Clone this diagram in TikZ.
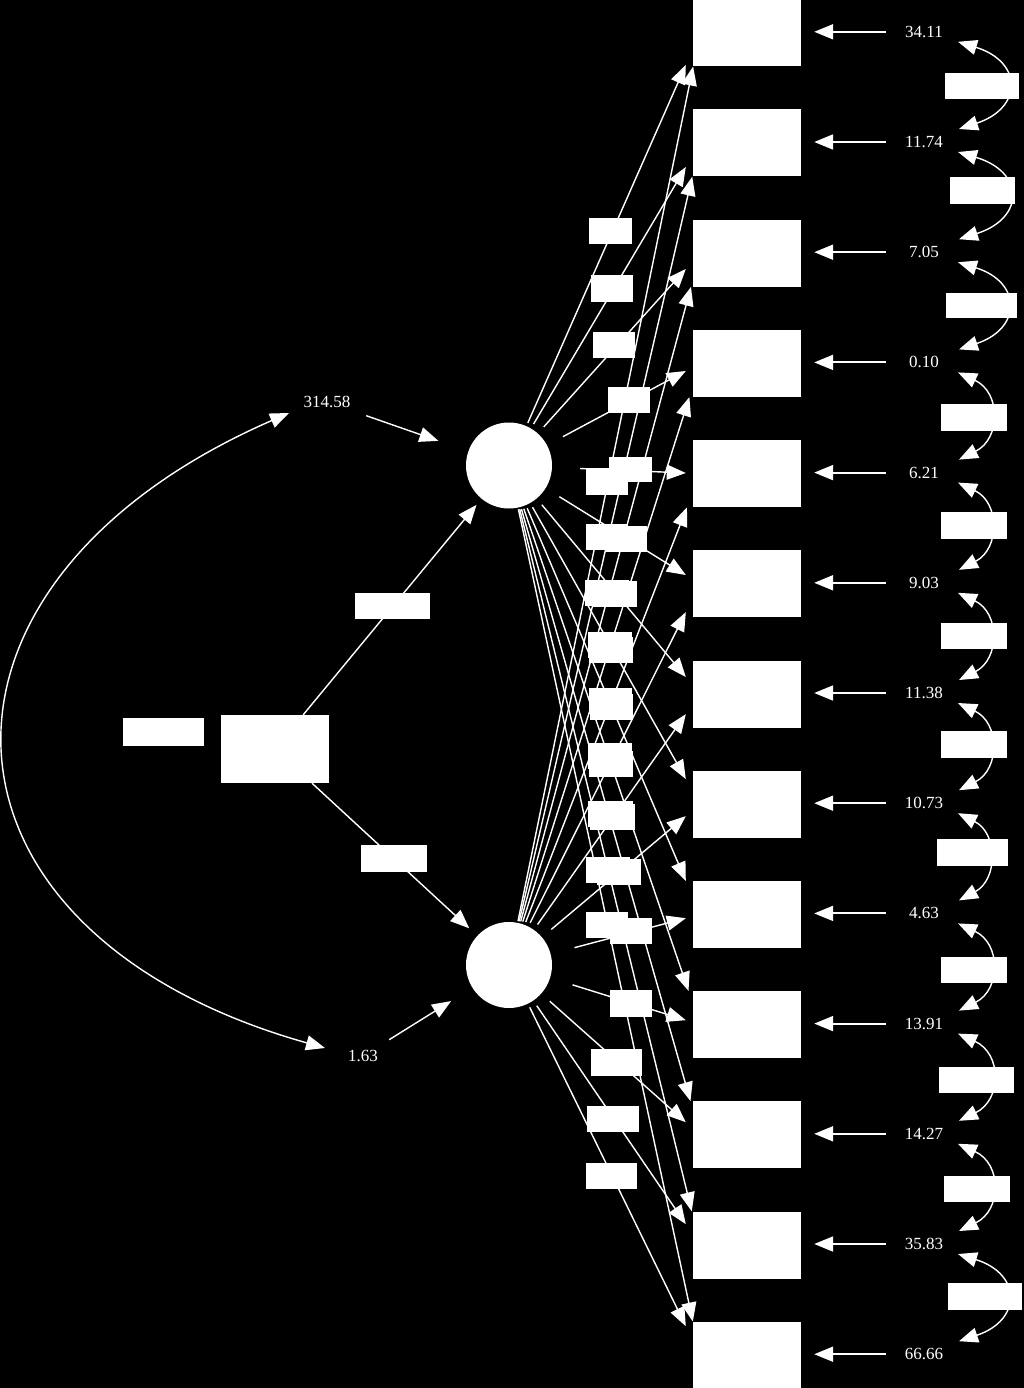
\documentclass[tikz,border=0pt]{standalone}
\usepackage{fontspec}
\setmainfont{Liberation Serif}
\usetikzlibrary{arrows.meta,shapes.geometric,calc}
\begin{document}
\begin{tikzpicture}[x=1pt,y=-1pt,
  >={Triangle[length=19pt,width=15pt]},
  conn/.style={white,line width=1.4pt,->},
  econn/.style={white,line width=2pt,->},
  dconn/.style={white,line width=1.4pt,<->},
  obs/.style={rectangle,fill=white,minimum width=108pt,minimum height=67pt,inner sep=0pt},
  lbl/.style={rectangle,fill=white,inner sep=0pt},
  port/.style={rectangle,minimum width=28pt,minimum height=67pt,inner sep=0pt},
  halo/.style={ellipse,minimum width=142pt,minimum height=88pt,inner sep=0pt},
  latent/.style={circle,fill=white,minimum size=86pt,inner sep=0pt},
  num/.style={text=white,font=\fontsize{17}{20}\selectfont,inner sep=0pt,minimum height=40pt}]
\useasboundingbox (0,0) rectangle (1024,1388);
\fill[black] (0,0) rectangle (1024,1388);

% latent variables and their connection outlines
\node[halo] (H1) at (509,465.5) {};
\node[halo] (H2) at (509,965) {};

% observed boxes, ports and error labels
\foreach \v [count=\i] in {34.11,11.74,7.05,0.10,6.21,9.03,11.38,10.73,4.63,13.91,14.27,35.83,66.66}{
  \pgfmathsetmacro\yy{32.8+110.2*(\i-1)}
  \node[port] (p\i) at (700,\yy) {};
  \node[num,minimum width=76pt] (e\i) at (924,\yy-1) {\v};
}

% paths from latents to observed
\foreach \i in {1,...,13}{
  \draw[conn] (H1) -- (p\i);
  \draw[conn] (H2) -- (p\i);
}

% observed boxes (drawn over tips overlap)
\foreach \i in {1,...,13}{
  \pgfmathsetmacro\yy{32.8+110.2*(\i-1)}
  \node[obs] (o\i) at (747,\yy) {};
  \draw[econn,shorten >=13pt] (e\i.west) -- (e\i.west -| o\i.east);
}

% path label boxes
\foreach \n/\x/\y/\w/\h in {
  a1/610/231/43/26, a2/612/288.5/42/27, a3/614/345/42/26, a4/629/400/42/26,
  a5/630/469.5/43/25, a6/626/539/42/26, a7/615/594/44/26, a8/611/650/44/26,
  a9/611/707/43/26, a10/611/764/44/26, a11/612/817/45/26, a12/619/872/44/26,
  a13/607/925/42/26,
  b1/607/481/42/27, b2/607/537/42/26, b3/607/593/44/26, b4/610/645/44/26,
  b5/610/701/43/26, b6/610/756/44/26, b7/610/814/45/26, b8/608/870/44/26,
  b9/631/931/42/26, b10/631/1003.5/42/27, b11/616.5/1062.5/51/27,
  b12/613/1119/52/26, b13/611.5/1176/51/26}{
  \node[lbl,minimum width=\w pt,minimum height=\h pt] (\n) at (\x,\y) {};
}

% latent circles
\node[latent] (L1) at (509,465.5) {};
\node[latent] (L2) at (509,965) {};

% exogenous box and its paths
\node[obs,minimum height=68pt] (B) at (275,749) {};
\node[lbl,minimum width=81pt,minimum height=28pt] (Bn) at (163.5,732) {};
\draw[conn] (B) -- (H1);
\draw[conn] (B) -- (H2);
\node[lbl,minimum width=75pt,minimum height=26pt] (g1) at (392.5,606) {};
\node[lbl,minimum width=66pt,minimum height=27pt] (g2) at (394,858.5) {};

% residual variances of latents
\node[num,minimum width=78pt] (v1) at (327,402) {314.58};
\node[num,minimum width=52pt] (v2) at (363,1056) {1.63};
\draw[conn,shorten >=9pt] (v1) -- (H1);
\draw[conn,shorten >=9pt] (v2) -- (H2);
\draw[dconn] ($(v1.center)+(-38,11)$) .. controls (-103,584) and (-87,932) .. ($(v2.center)+(-38,-8)$);

% error covariances
\foreach \i/\cx in {1/1023,2/1025,3/1022,4/1001,5/1000,6/1000,7/1000,8/998,9/1001,10/1002,11/1002,12/1022}{
  \pgfmathtruncatemacro\j{\i+1}
  \draw[dconn] ($(e\i.center)+(34,10)$) .. controls ($(e\i.center)+(\cx-924,30)$) and ($(e\j.center)+(\cx-924,-34)$) .. ($(e\j.center)+(35,-13)$);
}
\foreach \n/\x/\y/\w/\h in {
  c1/982/86/74/26, c2/982.5/190.5/65/27, c3/981.5/305.5/71/25, c4/974/417.5/66/27,
  c5/974/525.5/66/27, c6/974/636/66/26, c7/974/744.5/66/27, c8/972.5/852.5/71/27,
  c9/974/970/66/26, c10/976.5/1080/75/26, c11/977/1189/66/26, c12/985/1296.5/74/27}{
  \node[lbl,minimum width=\w pt,minimum height=\h pt] (\n) at (\x,\y) {};
}
\end{tikzpicture}
\end{document}
